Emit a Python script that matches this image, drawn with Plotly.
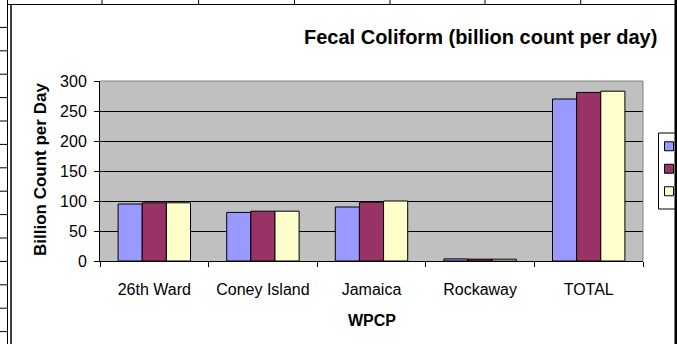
import plotly.graph_objects as go

# ---- data ----
plants = ["26th Ward", "Coney Island", "Jamaica", "Rockaway", "TOTAL"]
series_names = ["Series1", "Series2", "Series3"]
series1 = [95, 81, 90, 3.5, 270]
series2 = [97, 83, 98, 3, 281]
series3 = [97, 83, 100, 3, 283]
y_ticks = [0, 50, 100, 150, 200, 250, 300]

colors = ["#9999FF", "#993366", "#FFFFCC"]
FONT = "Liberation Sans, Arial, sans-serif"

W_PX, H_PX = 677, 344
L, R, T, B = 100, 643, 81, 261


def px(x):
    return (x - L) / (R - L)


def py(y):
    return (B - y) / (B - T)


fig = go.Figure()
for name, vals, col in zip(series_names, [series1, series2, series3], colors):
    fig.add_trace(go.Bar(
        x=plants, y=vals, name=name, showlegend=False,
        marker=dict(color=col, line=dict(color="black", width=1)),
    ))
# legend keys (the legend's labels are hidden past the right edge in the reference)
for name, col in zip(series_names, colors):
    fig.add_trace(go.Scatter(
        x=[None], y=[None], mode="markers", name="",
        showlegend=True, hoverinfo="skip",
        marker=dict(symbol="square", size=9, color=col,
                    line=dict(color="black", width=1)),
    ))

shapes = []
# plot-area border (top and right), grey like Excel
shapes.append(dict(type="line", xref="paper", yref="paper", x0=0, x1=1, y0=1, y1=1,
                   line=dict(color="#808080", width=1)))
shapes.append(dict(type="line", xref="paper", yref="paper", x0=1, x1=1, y0=0, y1=1,
                   line=dict(color="#808080", width=1)))

# spreadsheet decoration around the chart
col_lines = [102, 198.6, 294.5, 390, 485, 580.7]
for cx in col_lines:
    shapes.append(dict(type="line", xref="paper", yref="paper",
                       x0=px(cx), x1=px(cx), y0=py(0), y1=py(4.5),
                       line=dict(color="black", width=1)))
y = 27.4
while y < H_PX:
    shapes.append(dict(type="line", xref="paper", yref="paper",
                       x0=px(0), x1=px(7.5), y0=py(y), y1=py(y),
                       line=dict(color="black", width=1)))
    y += 23.4
# chart top border
shapes.append(dict(type="line", xref="paper", yref="paper",
                   x0=px(7.5), x1=px(677), y0=py(4.5), y1=py(4.5),
                   line=dict(color="black", width=1)))
# left double line
shapes.append(dict(type="line", xref="paper", yref="paper",
                   x0=px(7.5), x1=px(7.5), y0=py(0), y1=py(344),
                   line=dict(color="black", width=1)))
shapes.append(dict(type="line", xref="paper", yref="paper",
                   x0=px(11), x1=px(11), y0=py(4.5), y1=py(344),
                   line=dict(color="#404040", width=2)))
# legend box
shapes.append(dict(type="rect", xref="paper", yref="paper",
                   x0=px(658.5), x1=px(700), y0=py(133), y1=py(209),
                   fillcolor="white", line=dict(color="black", width=1)))
# right border
shapes.append(dict(type="line", xref="paper", yref="paper",
                   x0=px(676), x1=px(676), y0=py(0), y1=py(344),
                   line=dict(color="black", width=3)))

annotations = [
    dict(text="Fecal Coliform (billion count per day)", xref="paper", yref="paper",
         x=px(659), y=py(37), xanchor="right", yanchor="middle", showarrow=False,
         font=dict(family=FONT, size=20, color="black", weight="bold")),
    dict(text="Billion Count per Day", xref="paper", yref="paper",
         x=px(40), y=py(170), xanchor="center", yanchor="middle", showarrow=False,
         textangle=-90,
         font=dict(family=FONT, size=17, color="black", weight="bold")),
    dict(text="WPCP", xref="paper", yref="paper",
         x=0.5, y=py(320), xanchor="center", yanchor="middle", showarrow=False,
         font=dict(family=FONT, size=16, color="black", weight="bold")),
]

fig.update_layout(
    width=W_PX, height=H_PX,
    margin=dict(l=L, r=W_PX - R, t=T, b=H_PX - B, pad=0, autoexpand=False),
    paper_bgcolor="white", plot_bgcolor="#C0C0C0",
    barmode="group", bargap=1 / 3, bargroupgap=0,
    font=dict(family=FONT, size=16, color="black"),
    shapes=shapes, annotations=annotations,
    showlegend=True,
    legend=dict(x=px(649), y=py(130), xanchor="left", yanchor="top",
                bgcolor="rgba(0,0,0,0)", borderwidth=0, itemclick=False,
                tracegroupgap=0,
                font=dict(family=FONT, size=15, color="black")),
    xaxis=dict(type="category", range=[-0.5, 4.5], tickson="boundaries",
               ticks="outside", ticklen=5, tickcolor="black", tickwidth=1,
               showline=True, linecolor="black", linewidth=1, showgrid=False,
               ticklabelstandoff=14, tickfont=dict(family=FONT, size=16, color="black")),
    yaxis=dict(range=[0, 300], tickvals=y_ticks, ticks="outside", ticklen=5,
               tickcolor="black", tickwidth=1, showline=True, linecolor="black",
               linewidth=1, showgrid=True, gridcolor="black", gridwidth=1,
               zeroline=False, ticklabelstandoff=4,
               tickfont=dict(family=FONT, size=16, color="black")),
)

fig.write_html("out.html")
